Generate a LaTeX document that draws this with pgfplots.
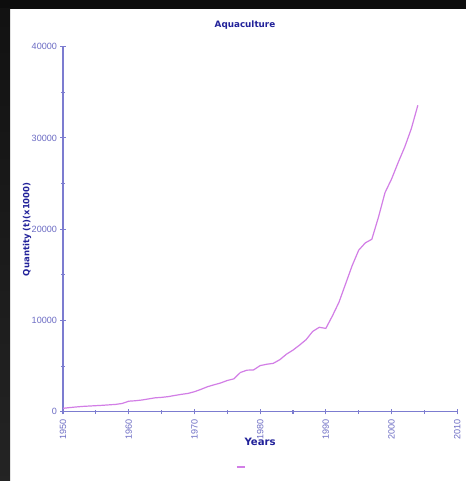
\documentclass[border=0pt]{standalone}
\usepackage{pgfplots}
\pgfplotsset{compat=1.18}
\usepackage{fontspec}
\setmainfont{Liberation Sans}
\newfontfamily\labelfont{DejaVu Sans}
\definecolor{navytext}{HTML}{22229A}
\definecolor{ticktext}{HTML}{6C6CC4}
\definecolor{axisblue}{HTML}{7C7CD0}
\definecolor{curve}{HTML}{D27EE6}

\begin{document}
\begin{tikzpicture}
% screenshot frame (1 px = 0.75 pt)
\fill[white] (0pt,0pt) rectangle (349.5pt,360.75pt);
\fill[black!95] (0pt,354pt) rectangle (349.5pt,360.75pt);
\shade[top color=black!93, bottom color=black!86] (0pt,0pt) rectangle (7.5pt,354pt);

\begin{axis}[
    at={(47.25pt,51.975pt)}, anchor=south west,
    scale only axis,
    width=295.7pt, height=273.75pt,
    xmin=1950, xmax=2010,
    ymin=0, ymax=40000,
    xtick={1950,1960,...,2010},
    ytick={0,10000,...,40000},
    minor x tick num=1,
    minor y tick num=1,
    scaled y ticks=false,
    /pgf/number format/.cd, 1000 sep={}, /pgfplots/.cd,
    /pgf/number format/assume math mode=true,
    axis x line*=bottom,
    axis y line*=left,
    axis line style={axisblue, line width=1.1pt},
    tick style={axisblue, line width=0.8pt},
    tick align=center,
    major tick length=4pt,
    minor tick length=3pt,
    tick label style={ticktext, font=\fontsize{6.8}{7}\selectfont},
    xticklabel style={rotate=90, anchor=east, xshift=0pt},
    yticklabel style={xshift=1pt},
    title={Aquaculture},
    title style={at={(axis description cs:0.4616,1.037)}, anchor=center,
        navytext, font=\labelfont\bfseries\fontsize{6.6}{7}\selectfont},
    xlabel={Years},
    xlabel style={at={(axis description cs:0.5,-0.083)}, anchor=center,
        navytext, font=\labelfont\bfseries\fontsize{7.6}{8}\selectfont},
    ylabel={Quantity (t)(x1000)},
    ylabel style={at={(axis description cs:-0.0913,0.5)}, anchor=center,
        navytext, font=\labelfont\bfseries\fontsize{6.4}{7}\selectfont},
    legend style={at={(axis description cs:0.453,-0.152)}, anchor=center,
        draw=none, fill=none, nodes={inner sep=0pt}},
    legend image code/.code={\draw[curve, line width=1.3pt] (0pt,0pt) -- (6pt,0pt);},
]
\addplot[curve, line width=0.9pt] coordinates {
(1950,370) (1951,450) (1952,520) (1953,580) (1954,620)
(1955,660) (1956,700) (1957,750) (1958,800) (1959,900)
(1960,1150) (1961,1200) (1962,1280) (1963,1400) (1964,1520)
(1965,1570) (1966,1650) (1967,1780) (1968,1900) (1969,2000)
(1970,2190) (1971,2450) (1972,2740) (1973,2950) (1974,3150)
(1975,3420) (1976,3600) (1977,4300) (1978,4550) (1979,4580)
(1980,5050) (1981,5200) (1982,5300) (1983,5700) (1984,6300)
(1985,6750) (1986,7300) (1987,7900) (1988,8800) (1989,9250)
(1990,9130) (1991,10500) (1992,12000) (1993,14000) (1994,16000)
(1995,17700) (1996,18500) (1997,18900) (1998,21300) (1999,24000)
(2000,25500) (2001,27300) (2002,29000) (2003,31000) (2004,33580)
};
\addlegendentry{}
\end{axis}
\end{tikzpicture}
\end{document}
